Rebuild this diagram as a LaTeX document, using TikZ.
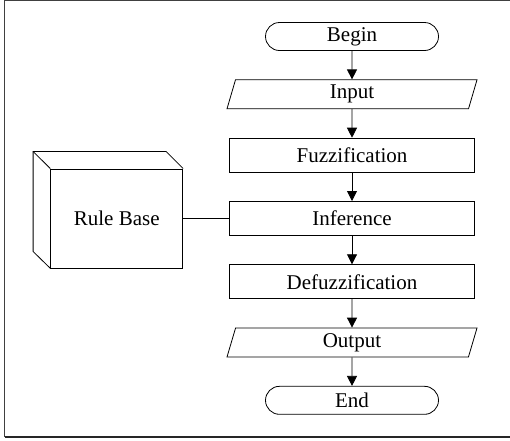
\documentclass[tikz,border=0pt]{standalone}
\usepackage{fontspec}
\setmainfont{Liberation Serif}
\usetikzlibrary{positioning,arrows.meta,shapes.geometric}

\begin{document}
\begin{tikzpicture}[
  x=1pt, y=1pt,
  node distance=28.5pt,
  base/.style={draw, line width=0.8pt, inner sep=0pt, font=\fontsize{21}{25}\selectfont},
  terminal/.style={base, rounded corners=14pt, minimum width=173pt, minimum height=28pt},
  io/.style={base, trapezium, trapezium left angle=65, trapezium right angle=115,
    trapezium stretches body, minimum width=250pt, minimum height=29pt},
  process/.style={base, rectangle, minimum width=245pt, minimum height=34pt},
  >={Triangle[length=10pt,width=10pt]}
]
\useasboundingbox (0,0) rectangle (510,-440);
\draw[line width=1pt, black!75] (4.5,-437) -- (4.5,-0.5) -- (515,-0.5);
\draw[line width=1.2pt, black!85] (4.5,-437) -- (515,-437);

\node[terminal] (begin) at (352,-36.5) {Begin};
\node[io, below=of begin] (input) {Input};
\node[process, below=of input] (fuzz) {Fuzzification};
\node[process, below=of fuzz] (inf) {Inference};
\node[process, below=of inf] (defuzz) {Defuzzification};
\node[io, below=of defuzz] (output) {Output};
\node[terminal, below=of output] (end) {End};

% rule base drawn as a box with depth
\node[base, minimum width=132pt, minimum height=99pt, left=46pt of inf] (rules) {Rule Base};
\draw[line width=0.8pt] (rules.north east) -- ++(-17pt,17pt) -- ++(-133pt,0) coordinate (rbk)
  -- ++(0,-100pt) -- (rules.south west);
\draw[line width=0.8pt] (rbk) -- (rules.north west);

\draw[->, line width=0.8pt] (begin) -- (input);
\draw[->, line width=0.8pt] (input) -- (fuzz);
\draw[->, line width=0.8pt] (fuzz) -- (inf);
\draw[->, line width=0.8pt] (inf) -- (defuzz);
\draw[->, line width=0.8pt] (defuzz) -- (output);
\draw[->, line width=0.8pt] (output) -- (end);
\draw[line width=0.8pt] (rules) -- (inf);
\end{tikzpicture}
\end{document}
